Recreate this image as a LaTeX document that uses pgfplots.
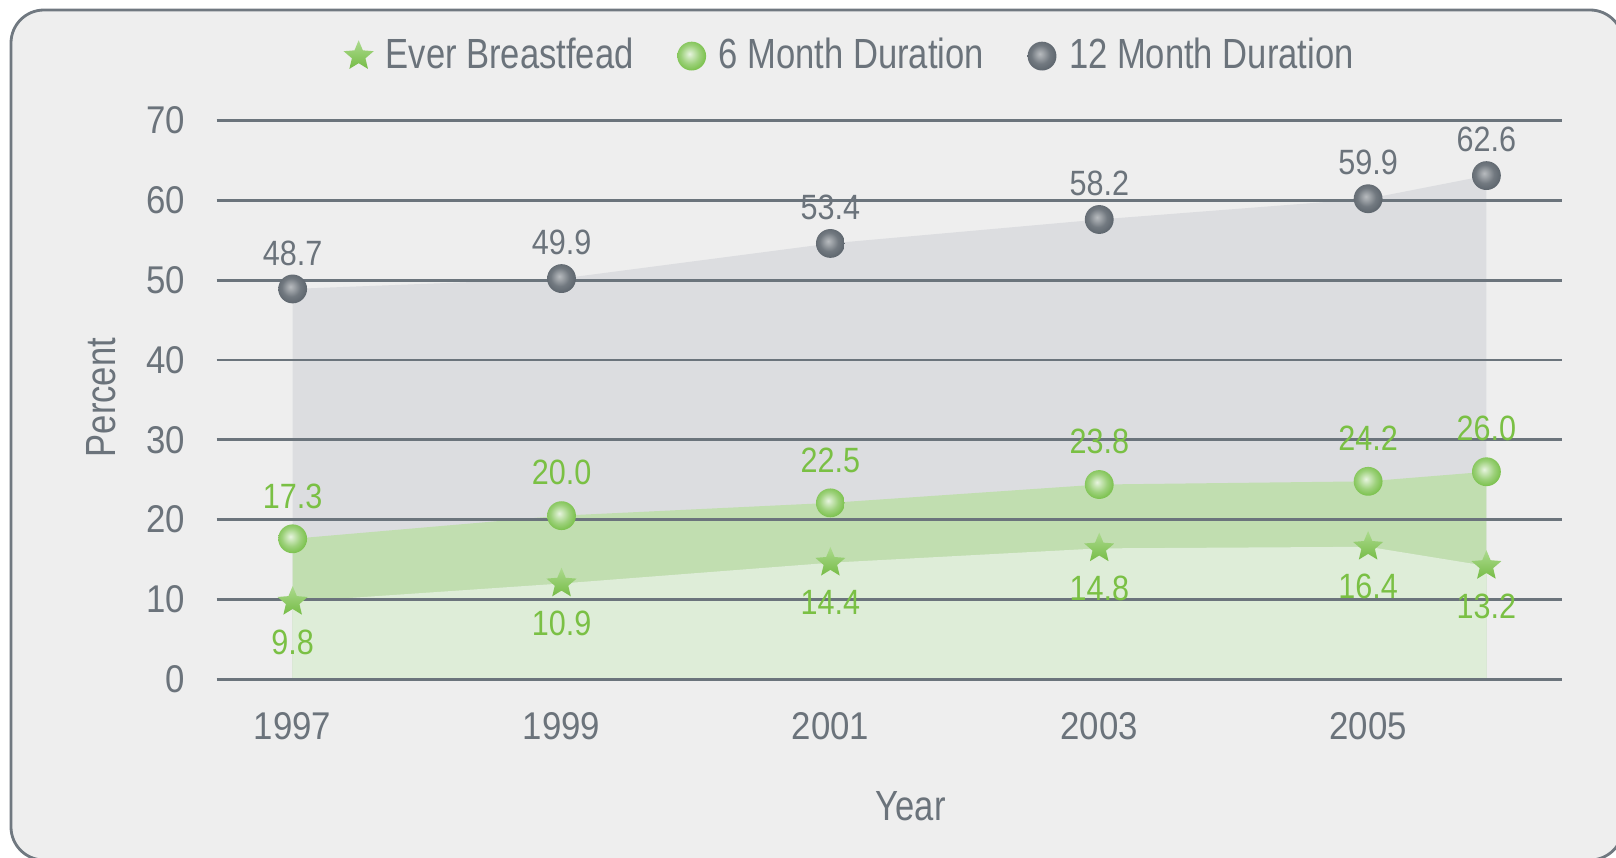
\documentclass[border=0pt]{standalone}
\usepackage{fontspec}
\setmainfont{Liberation Sans}[FakeStretch=0.82]
\newfontfamily\tickfont{Liberation Sans}[FakeStretch=0.9]
\newfontfamily\lblfont{Liberation Sans}[FakeStretch=0.87]
\usepackage{pgfplots}
\pgfplotsset{compat=1.18}
\definecolor{txtgray}{RGB}{107,115,123}
\definecolor{gridgray}{RGB}{107,116,124}
\definecolor{bgbox}{RGB}{238,238,238}
\definecolor{boxline}{RGB}{112,120,128}
\definecolor{fillgray}{RGB}{220,221,224}
\definecolor{fillgreen}{RGB}{193,222,176}
\definecolor{filllight}{RGB}{222,237,216}
\definecolor{lblgreen}{RGB}{122,192,68}
\definecolor{gC}{RGB}{125,194,80}
\definecolor{kC}{RGB}{95,103,111}
\definecolor{sD}{RGB}{118,188,70}
\definecolor{sL}{RGB}{172,218,142}

\pgfdeclareradialshading{gballsh}{\pgfpoint{-4bp}{4bp}}{%
  color(0bp)=(gC!18!white); color(6bp)=(gC!40!white); color(16bp)=(gC!75!white);
  color(26bp)=(gC); color(50bp)=(gC)}
\pgfdeclareradialshading{kballsh}{\pgfpoint{-4bp}{4bp}}{%
  color(0bp)=(kC!45!white); color(6bp)=(kC!60!white); color(16bp)=(kC!88!white);
  color(26bp)=(kC); color(50bp)=(kC)}
\pgfdeclareverticalshading{starsh}{100bp}{%
  color(0bp)=(sD); color(25bp)=(sD); color(75bp)=(sL); color(100bp)=(sL)}

\pgfdeclareplotmark{gball}{%
  \pgfpathcircle{\pgfpointorigin}{\pgfplotmarksize}%
  \pgfshadepath{gballsh}{0}\pgfusepath{discard}}
\pgfdeclareplotmark{kball}{%
  \pgfpathcircle{\pgfpointorigin}{\pgfplotmarksize}%
  \pgfshadepath{kballsh}{0}\pgfusepath{discard}}
\pgfdeclareplotmark{fstar}{%
  \pgfpathmoveto{\pgfpointpolar{90}{\pgfplotmarksize}}%
  \pgfpathlineto{\pgfpointpolar{126}{0.45\pgfplotmarksize}}%
  \pgfpathlineto{\pgfpointpolar{162}{\pgfplotmarksize}}%
  \pgfpathlineto{\pgfpointpolar{198}{0.45\pgfplotmarksize}}%
  \pgfpathlineto{\pgfpointpolar{234}{\pgfplotmarksize}}%
  \pgfpathlineto{\pgfpointpolar{270}{0.45\pgfplotmarksize}}%
  \pgfpathlineto{\pgfpointpolar{306}{\pgfplotmarksize}}%
  \pgfpathlineto{\pgfpointpolar{342}{0.45\pgfplotmarksize}}%
  \pgfpathlineto{\pgfpointpolar{18}{\pgfplotmarksize}}%
  \pgfpathlineto{\pgfpointpolar{54}{0.45\pgfplotmarksize}}%
  \pgfpathclose
  \pgfshadepath{starsh}{0}\pgfusepath{discard}}

\pgfplotstableread{
x y lab
1997 48.9 48.7
1999 50.2 49.9
2001 54.6 53.4
2003 57.6 58.2
2005 60.2 59.9
2005.88 63.1 62.6
}\twelve
\pgfplotstableread{
x y lab
1997 17.6 17.3
1999 20.5 20.0
2001 22.1 22.5
2003 24.4 23.8
2005 24.8 24.2
2005.88 26.0 26.0
}\six
\pgfplotstableread{
x y lab
1997 9.7 9.8
1999 12.0 10.9
2001 14.6 14.4
2003 16.4 14.8
2005 16.6 16.4
2005.88 14.2 13.2
}\ever

\begin{document}
\begin{tikzpicture}
\useasboundingbox (-2.167,-1.777) rectangle (13.993,6.793);
\draw[boxline, line width=0.8pt, fill=bgbox, rounded corners=0.33cm] (-2.057,-1.807) rectangle (14.063,6.693);
\begin{axis}[
  at={(0,0)}, anchor=south west, scale only axis,
  width=13.45cm, height=5.588cm,
  xmin=1996.435, xmax=2006.44, ymin=0, ymax=70,
  xtick={1997,1999,2001,2003,2005},
  xticklabels={1997,1999,2001,2003,2005},
  ytick={0,10,...,70},
  axis line style={draw=none}, major tick length=0pt,
  clip=false,
  /pgf/number format/assume math mode=true,
  tick label style={font=\tickfont\fontsize{11}{13}\selectfont, text=txtgray},
  yticklabel style={xshift=-0.19cm},
  xticklabel style={yshift=-0.21cm},
  xlabel={Year}, ylabel={Percent},
  xlabel style={at={(axis description cs:0.516,-0.227)}, anchor=center, font=\fontsize{12}{14}\selectfont, text=txtgray},
  ylabel style={at={(axis description cs:-0.0862,0.504)}, anchor=center, font=\fontsize{12}{14}\selectfont, text=txtgray},
  legend style={at={(axis description cs:0.4706,1.1153)}, anchor=center, draw=none, fill=none,
    font=\fontsize{12}{14}\selectfont, text=txtgray,
    /tikz/every even column/.append style={column sep=0.31cm}},
  legend columns=3,
  legend image code/.code={\path (0cm,0cm) -- (0.4cm,0cm);
    \draw[mark repeat=2,mark phase=2,#1] plot coordinates {(0cm,0cm) (0.2cm,0cm) (0.4cm,0cm)};},
]
% areas
\addplot[fill=fillgray, draw=none, forget plot] table[x=x,y=y] {\twelve} \closedcycle;
\addplot[fill=fillgreen, draw=none, forget plot] table[x=x,y=y] {\six} \closedcycle;
\addplot[fill=filllight, draw=none, forget plot] table[x=x,y=y] {\ever} \closedcycle;
% grid lines
\pgfplotsinvokeforeach{0,10,...,70}{\draw[gridgray, line width=0.8pt] (axis cs:1996.435,#1) -- (axis cs:2006.44,#1);}
% markers
\addplot[only marks, mark=fstar, mark size=4.5pt, draw=none,
  nodes near coords, point meta=explicit symbolic,
  nodes near coords style={anchor=center, yshift=-11.4pt, font=\lblfont\fontsize{10}{12}\selectfont, text=lblgreen}]
  table[x=x,y=y,meta=lab] {\ever};
\addlegendentry{Ever Breastfead}
\addplot[only marks, mark=gball, mark size=4.1pt, draw=none,
  nodes near coords, point meta=explicit symbolic,
  nodes near coords style={anchor=center, yshift=12.2pt, font=\lblfont\fontsize{10}{12}\selectfont, text=lblgreen}]
  table[x=x,y=y,meta=lab] {\six};
\addlegendentry{6 Month Duration}
\addplot[only marks, mark=kball, mark size=4.1pt, draw=none,
  nodes near coords, point meta=explicit symbolic,
  nodes near coords style={anchor=center, yshift=10.2pt, font=\lblfont\fontsize{10}{12}\selectfont, text=txtgray}]
  table[x=x,y=y,meta=lab] {\twelve};
\addlegendentry{12 Month Duration}
\end{axis}
\end{tikzpicture}
\end{document}
